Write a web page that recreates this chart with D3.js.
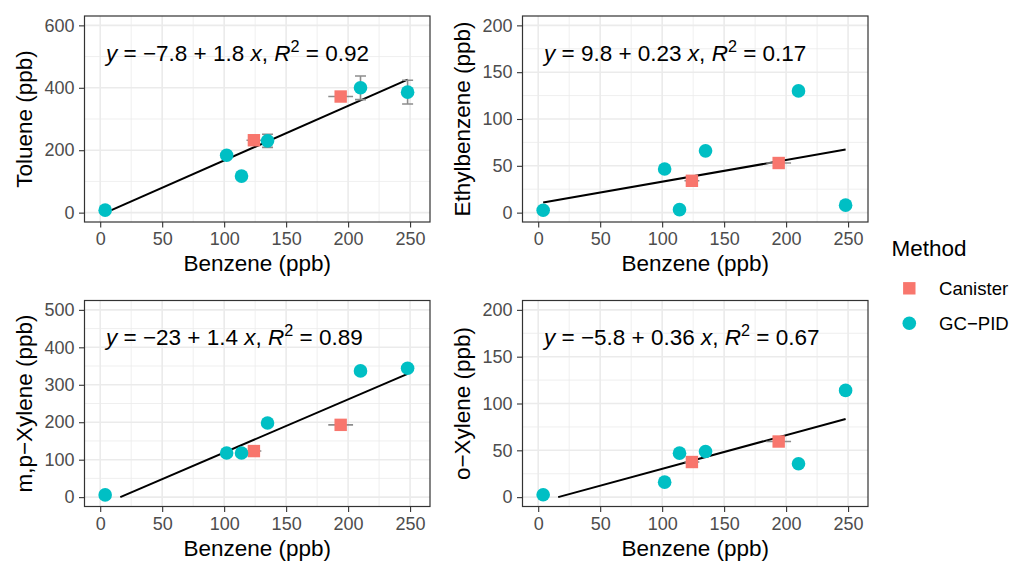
<!DOCTYPE html>
<html><head><meta charset="utf-8">
<script src="https://cdn.jsdelivr.net/npm/d3@7"></script>
<style>body{margin:0;background:#fff}svg{display:block}text{font-family:"Liberation Sans",Arial,sans-serif}</style>
</head><body>
<script>
// ---- data ----
const methods = ["Canister", "GC\u2212PID"];
const benzeneGC = [4, 102, 114, 135, 210, 248];
const benzeneGCErr = [0, 0, 0, 0, 0, 4];
const benzeneCan = [124, 194];
const benzeneCanErr = [6, 10];

const compounds = ["Toluene (ppb)", "Ethylbenzene (ppb)", "m,p\u2212Xylene (ppb)", "o\u2212Xylene (ppb)"];
const tolueneGC = [8, 184, 117, 230, 400, 386];
const tolueneGCErr = [0, 0, 0, 21, 38, 38];
const tolueneCan = [232, 372];
const ethylGC = [2.5, 46.6, 3.2, 66, 130, 8];
const ethylCan = [34, 53];
const mpxGC = [6, 118, 118, 198, 337, 344];
const mpxCan = [123, 193];
const oxGC = [2.5, 16, 47, 48.7, 35.6, 114];
const oxCan = [37.5, 59.4];

const intercepts = [-7.8, 9.8, -23, -5.8];
const slopes = [1.75, 0.232, 1.42, 0.36];
const interceptLabels = ["\u22127.8", "9.8", "\u221223", "\u22125.8"];
const slopeLabels = ["1.8", "0.23", "1.4", "0.36"];
const r2Labels = ["0.92", "0.17", "0.89", "0.67"];

const xTicks = [0, 50, 100, 150, 200, 250];
const xMinor = [25, 75, 125, 175, 225];
const yLimits = [[0, 600], [0, 200], [0, 500], [0, 200]];
const yTicks = [[0, 200, 400, 600], [0, 50, 100, 150, 200], [0, 100, 200, 300, 400, 500], [0, 50, 100, 150, 200]];
const yMinor = [[100, 300, 500], [25, 75, 125, 175], [50, 150, 250, 350, 450], [25, 75, 125, 175]];
const xLimits = [0, 253.4];
const xTitle = "Benzene (ppb)";

const gcY = [tolueneGC, ethylGC, mpxGC, oxGC];
const gcYErr = [tolueneGCErr, null, null, null];
const canY = [tolueneCan, ethylCan, mpxCan, oxCan];

// ---- layout ----
const W = 1009, H = 561;
const colors = {Canister: "#F8766D", GC: "#00BFC4"};
const panelsPos = [
  {x0: 84.5, x1: 430, y0: 16, y1: 222},
  {x0: 522.5, x1: 868, y0: 16, y1: 222},
  {x0: 84.5, x1: 430, y0: 300.5, y1: 506.5},
  {x0: 522.5, x1: 868, y0: 300.5, y1: 506.5}
];
const tickFont = 18, titleFont = 22.5, eqFont = 22.5, legFont = 18.6;

const svg = d3.select("body").append("svg").attr("width", W).attr("height", H);
svg.append("rect").attr("width", W).attr("height", H).attr("fill", "#fff");

function expand(l) { const d = (l[1] - l[0]) * 0.05; return [l[0] - d, l[1] + d]; }

compounds.forEach((comp, i) => {
  const p = panelsPos[i];
  const x = d3.scaleLinear().domain(expand(xLimits)).range([p.x0, p.x1]);
  const y = d3.scaleLinear().domain(expand(yLimits[i])).range([p.y1, p.y0]);
  const g = svg.append("g");
  const clipId = "clip" + i;
  g.append("clipPath").attr("id", clipId).append("rect")
    .attr("x", p.x0).attr("y", p.y0).attr("width", p.x1 - p.x0).attr("height", p.y1 - p.y0);

  const grid = g.append("g");
  grid.selectAll(".vmin").data(xMinor).join("line")
    .attr("x1", d => x(d)).attr("x2", d => x(d)).attr("y1", p.y0).attr("y2", p.y1)
    .attr("stroke", "#EBEBEB").attr("stroke-width", 0.8);
  grid.selectAll(".hmin").data(yMinor[i]).join("line").attr("class", "hmin")
    .attr("y1", d => y(d)).attr("y2", d => y(d)).attr("x1", p.x0).attr("x2", p.x1)
    .attr("stroke", "#EBEBEB").attr("stroke-width", 0.8);
  grid.selectAll(".vmaj").data(xTicks).join("line").attr("class", "vmaj")
    .attr("x1", d => x(d)).attr("x2", d => x(d)).attr("y1", p.y0).attr("y2", p.y1)
    .attr("stroke", "#EBEBEB").attr("stroke-width", 1.6);
  grid.selectAll(".hmaj").data(yTicks[i]).join("line").attr("class", "hmaj")
    .attr("y1", d => y(d)).attr("y2", d => y(d)).attr("x1", p.x0).attr("x2", p.x1)
    .attr("stroke", "#EBEBEB").attr("stroke-width", 1.6);

  const plot = g.append("g").attr("clip-path", `url(#${clipId})`);

  const b = intercepts[i], m = slopes[i];
  const xa = Math.max(d3.min(benzeneGC), -b / m), xb = d3.max(benzeneGC);
  plot.append("line").attr("x1", x(xa)).attr("y1", y(b + m * xa)).attr("x2", x(xb)).attr("y2", y(b + m * xb))
    .attr("stroke", "#000").attr("stroke-width", 2);

  const errCol = "#8C8C8C", errW = 1.6, cap = 5.5;
  const gc = benzeneGC.map((bx, k) => ({x: bx, xe: benzeneGCErr[k], y: gcY[i][k], ye: gcYErr[i] ? gcYErr[i][k] : 0}));
  const can = benzeneCan.map((bx, k) => ({x: bx, xe: benzeneCanErr[k], y: canY[i][k], ye: 0}));
  const all = can.concat(gc);
  plot.selectAll(".xe").data(all.filter(d => d.xe > 0)).join("line")
    .attr("x1", d => x(d.x - d.xe)).attr("x2", d => x(d.x + d.xe)).attr("y1", d => y(d.y)).attr("y2", d => y(d.y))
    .attr("stroke", errCol).attr("stroke-width", errW);
  const ve = all.filter(d => d.ye > 0);
  plot.selectAll(".ye").data(ve).join("line")
    .attr("x1", d => x(d.x)).attr("x2", d => x(d.x)).attr("y1", d => y(d.y - d.ye)).attr("y2", d => y(d.y + d.ye))
    .attr("stroke", errCol).attr("stroke-width", errW);
  plot.selectAll(".yc1").data(ve).join("line")
    .attr("x1", d => x(d.x) - cap).attr("x2", d => x(d.x) + cap).attr("y1", d => y(d.y + d.ye)).attr("y2", d => y(d.y + d.ye))
    .attr("stroke", errCol).attr("stroke-width", errW);
  plot.selectAll(".yc2").data(ve).join("line")
    .attr("x1", d => x(d.x) - cap).attr("x2", d => x(d.x) + cap).attr("y1", d => y(d.y - d.ye)).attr("y2", d => y(d.y - d.ye))
    .attr("stroke", errCol).attr("stroke-width", errW);

  plot.selectAll(".sq").data(can).join("rect")
    .attr("x", d => x(d.x) - 6.2).attr("y", d => y(d.y) - 6.2).attr("width", 12.4).attr("height", 12.4)
    .attr("fill", colors.Canister);
  plot.selectAll(".ci").data(gc).join("circle")
    .attr("cx", d => x(d.x)).attr("cy", d => y(d.y)).attr("r", 6.8)
    .attr("fill", colors.GC);

  g.append("rect").attr("x", p.x0).attr("y", p.y0).attr("width", p.x1 - p.x0).attr("height", p.y1 - p.y0)
    .attr("fill", "none").attr("stroke", "#333333").attr("stroke-width", 1.2);

  const xAxis = d3.axisBottom(x).tickValues(xTicks).tickSize(5.5).tickPadding(5);
  const gx = g.append("g").attr("transform", `translate(0,${p.y1})`).call(xAxis);
  gx.select(".domain").remove();
  gx.selectAll(".tick line").attr("stroke", "#333333").attr("stroke-width", 1.1);
  gx.selectAll(".tick text").attr("fill", "#4D4D4D").style("font-size", tickFont + "px")
    .style("font-family", "Liberation Sans, Arial, sans-serif");
  const yAxis = d3.axisLeft(y).tickValues(yTicks[i]).tickSize(5.5).tickPadding(4.5);
  const gy = g.append("g").attr("transform", `translate(${p.x0},0)`).call(yAxis);
  gy.select(".domain").remove();
  gy.selectAll(".tick line").attr("stroke", "#333333").attr("stroke-width", 1.1);
  gy.selectAll(".tick text").attr("fill", "#4D4D4D").style("font-size", tickFont + "px")
    .style("font-family", "Liberation Sans, Arial, sans-serif");

  g.append("text").attr("x", (p.x0 + p.x1) / 2).attr("y", p.y1 + 49).attr("text-anchor", "middle")
    .style("font-size", titleFont + "px").attr("fill", "#000").text(xTitle);
  g.append("text").attr("transform", `translate(${p.x0 - 53},${(p.y0 + p.y1) / 2}) rotate(-90)`)
    .attr("text-anchor", "middle").style("font-size", titleFont + "px").attr("fill", "#000").text(comp);

  const eq = g.append("text").attr("x", p.x0 + 21.5).attr("y", p.y0 + 44.5)
    .style("font-size", eqFont + "px").attr("fill", "#000").attr("xml:space", "preserve");
  eq.append("tspan").style("font-style", "italic").text("y");
  eq.append("tspan").text(" = " + interceptLabels[i] + " + " + slopeLabels[i] + " ");
  eq.append("tspan").style("font-style", "italic").text("x");
  eq.append("tspan").text(", ");
  eq.append("tspan").style("font-style", "italic").text("R");
  eq.append("tspan").attr("dy", -9).style("font-size", (eqFont * 0.72) + "px").text("2");
  eq.append("tspan").attr("dy", 9).text(" = " + r2Labels[i]);
});

const lg = svg.append("g");
lg.append("text").attr("x", 891.5).attr("y", 256).style("font-size", titleFont + "px").attr("fill", "#000").text("Method");
lg.append("rect").attr("x", 909.3 - 6.2).attr("y", 288.3 - 6.2).attr("width", 12.4).attr("height", 12.4).attr("fill", colors.Canister);
lg.append("circle").attr("cx", 909.3).attr("cy", 323.3).attr("r", 6.8).attr("fill", colors.GC);
lg.selectAll(".ll").data(methods).join("text")
  .attr("x", 939).attr("y", (d, k) => 294.8 + k * 35).style("font-size", legFont + "px").attr("fill", "#000").text(d => d);
</script>
</body></html>
